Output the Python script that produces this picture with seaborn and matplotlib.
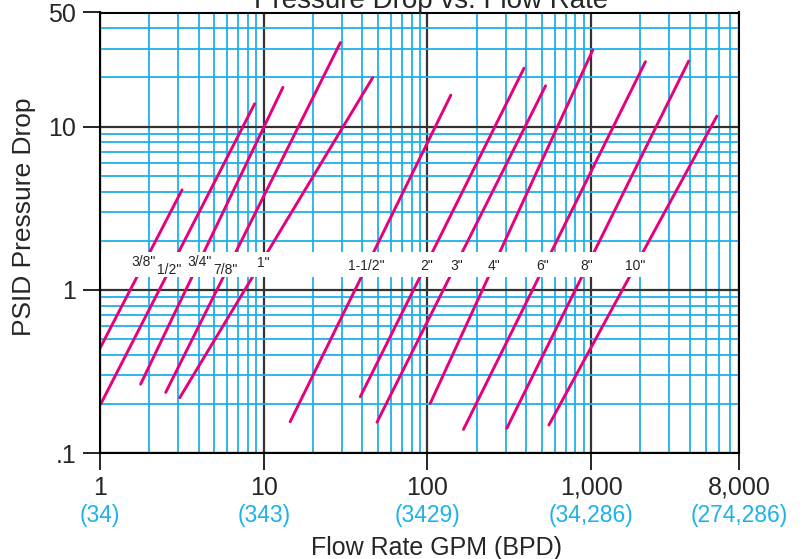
import numpy as np
import pandas as pd
import matplotlib
matplotlib.use("Agg")
import matplotlib.pyplot as plt
import matplotlib.ticker as mtick
import seaborn as sns

# pipe sizes and the two end points of each line (GPM, PSID)
sizes = ['3/8"', '1/2"', '3/4"', '7/8"', '1"', '1-1/2"', '2"', '3"', '4"', '6"', '8"', '10"']
flow_low = [1.0, 1.01, 1.77, 2.52, 3.07, 14.5, 38.9, 49.2, 104, 166, 305, 552]
psid_low = [0.44, 0.20, 0.265, 0.236, 0.219, 0.156, 0.222, 0.155, 0.202, 0.140, 0.142, 0.149]
flow_high = [3.17, 8.8, 13.1, 29.4, 46.3, 139, 389, 527, 1024, 2146, 3940, 5860]
psid_high = [4.1, 13.8, 17.4, 32.7, 19.95, 15.6, 22.8, 17.8, 29.5, 25.0, 25.2, 11.6]

# where the size labels sit in the white band
label_x = [1.84, 2.64, 4.07, 5.86, 9.89, 42.2, 99.3, 152, 255, 503, 939, 1866]
label_y = [1.49, 1.33, 1.49, 1.33, 1.46, 1.40, 1.40, 1.40, 1.40, 1.40, 1.40, 1.40]

# axis ticks
gpm_ticks = [1, 10, 100, 1000, 8000]
gpm_labels = ['1', '10', '100', '1,000', '8,000']
bpd_labels = ['(34)', '(343)', '(3429)', '(34,286)', '(274,286)']
psid_ticks = [0.1, 1, 10, 50]
psid_labels = ['.1', '1', '10', '50']

band_low, band_high, band_right = 1.196, 1.716, 2500

magenta = '#E6007E'
cyan = '#1DB2E8'

df = pd.DataFrame({
    'size': sizes * 2,
    'flow': flow_low + flow_high,
    'psid': psid_low + psid_high,
})

sns.set_style("white")
plt.rcParams['font.family'] = ['Liberation Sans', 'DejaVu Sans']

fig = plt.figure(figsize=(8.07, 5.59), dpi=100)
ax = fig.add_axes([100 / 807, 1 - 453.3 / 559, 639 / 807, 440.8 / 559])

sns.lineplot(data=df, x='flow', y='psid', hue='size', units='size',
             palette=[magenta] * len(sizes), estimator=None, sort=False,
             legend=False, linewidth=2.1, ax=ax, zorder=2)

ax.set_xscale('log')
ax.set_yscale('log')
ax.set_xlim(1, 8000)
ax.set_ylim(0.1, 50)

ax.xaxis.set_major_locator(mtick.FixedLocator(gpm_ticks))
ax.xaxis.set_major_formatter(mtick.FixedFormatter(gpm_labels))
ax.yaxis.set_major_locator(mtick.FixedLocator(psid_ticks))
ax.yaxis.set_major_formatter(mtick.FixedFormatter(psid_labels))
ax.xaxis.set_minor_locator(mtick.LogLocator(base=10, subs=np.arange(2, 10), numticks=30))
ax.yaxis.set_minor_locator(mtick.LogLocator(base=10, subs=np.arange(2, 10), numticks=30))
ax.xaxis.set_minor_formatter(mtick.NullFormatter())
ax.yaxis.set_minor_formatter(mtick.NullFormatter())

ax.set_axisbelow(True)
ax.grid(True, which='minor', color=cyan, linewidth=1.3)
ax.grid(True, which='major', color='#333333', linewidth=1.6)

ax.tick_params(which='major', direction='out', length=12, width=1.2, color='black',
               labelsize=18, pad=5, bottom=True, left=True)
ax.tick_params(axis='x', which='major', pad=4)
ax.tick_params(which='minor', length=0)

for s in ax.spines.values():
    s.set_color('black')
    s.set_linewidth(1.5)
    s.set_zorder(4)

# white band behind the size labels
ax.fill_between([1, band_right], band_low, band_high, color='white', zorder=3, linewidth=0)
for name, lx, ly in zip(sizes, label_x, label_y):
    ax.text(lx, ly, name, ha='center', va='center', fontsize=10, zorder=5)

# BPD equivalents under the GPM ticks
for x, lab in zip(gpm_ticks, bpd_labels):
    ax.text(x, -0.142, lab, transform=ax.get_xaxis_transform(), ha='center', va='center',
            fontsize=16.5, color=cyan)

ax.set_xlabel('Flow Rate GPM (BPD)', fontsize=18)
ax.xaxis.label.set_va('center')
ax.xaxis.set_label_coords(0.526, -0.215)
ax.set_ylabel('PSID Pressure Drop', fontsize=19)
ax.yaxis.label.set_va('center')
ax.yaxis.set_label_coords(-0.119, 0.537)

# title sits partly above the top edge, as in the source
fig.text(431 / 807, 1 - 8 / 559, 'Pressure Drop vs. Flow Rate', ha='center', va='baseline',
         fontsize=20)

fig.savefig('out.png', dpi=100)
